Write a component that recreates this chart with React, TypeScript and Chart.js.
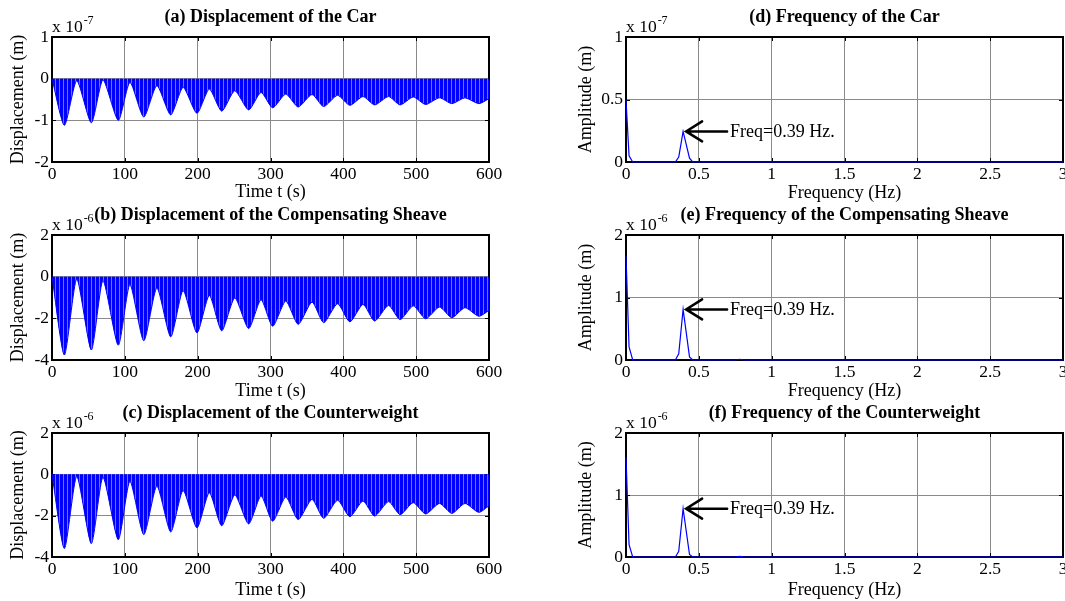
import React, { useEffect, useRef } from 'react';
import { Chart, registerables } from 'chart.js';

Chart.register(...registerables);

// ---------- data ----------
// time instants (s): start, then alternating beat troughs / beat crests, then end
const timeS = [0, 17, 34, 54, 70, 91, 107, 126, 144, 163, 180, 199, 216, 233, 251, 270, 287, 303, 321, 338, 357, 373, 392, 409, 427, 443, 462, 478, 496, 513, 532, 549, 567, 586, 600];
// lower envelope of car displacement (x 1e-7 m)
const carDisp = [0, -1.12, -0.05, -1.06, -0.03, -1.0, -0.09, -0.92, -0.17, -0.87, -0.21, -0.83, -0.25, -0.78, -0.29, -0.75, -0.33, -0.7, -0.37, -0.68, -0.38, -0.67, -0.4, -0.64, -0.43, -0.63, -0.43, -0.63, -0.44, -0.62, -0.46, -0.6, -0.46, -0.6, -0.48];
// lower envelope of compensating sheave displacement (x 1e-6 m)
const sheaveDisp = [0, -3.76, -0.11, -3.52, -0.19, -3.29, -0.38, -3.08, -0.54, -2.89, -0.67, -2.7, -0.9, -2.6, -1.02, -2.49, -1.11, -2.38, -1.17, -2.29, -1.22, -2.21, -1.3, -2.17, -1.33, -2.13, -1.38, -2.06, -1.4, -2.02, -1.46, -1.97, -1.49, -1.9, -1.62];
// lower envelope of counterweight displacement (x 1e-6 m)
const cwDisp = [0, -3.59, -0.1, -3.35, -0.14, -3.16, -0.33, -2.92, -0.57, -2.79, -0.78, -2.59, -0.89, -2.49, -1.0, -2.4, -1.05, -2.27, -1.1, -2.19, -1.21, -2.13, -1.25, -2.05, -1.29, -2.02, -1.32, -1.95, -1.37, -1.92, -1.41, -1.89, -1.41, -1.84, -1.52];

// spectra
const freqHz = [0, 0.021, 0.046, 0.339, 0.362, 0.392, 0.436, 0.458, 0.75, 0.78, 0.81, 3.0];
const carAmp = [0.495, 0.05, 0, 0, 0.04, 0.245, 0.03, 0, 0, 0, 0, 0]; // x 1e-7
const sheaveAmp = [1.66, 0.21, 0, 0, 0.1, 0.81, 0.05, 0, 0, 0.012, 0, 0]; // x 1e-6
const cwAmp = [1.61, 0.2, 0, 0, 0.09, 0.78, 0.04, 0, 0, 0.012, 0, 0]; // x 1e-6
const peakIndex = 5;
const peakLabel = 'Freq=0.39 Hz.';

// ticks
const timeTicks = [0, 100, 200, 300, 400, 500, 600];
const freqTicks = [0, 0.5, 1, 1.5, 2, 2.5, 3];
const carDispTicks = [-2, -1, 0, 1];
const dispTicks6 = [-4, -2, 0, 2];
const carAmpTicks = [0, 0.5, 1];
const ampTicks6 = [0, 1, 2];

const FONT = "'Liberation Serif', 'Times New Roman', Times, serif";
const BLUE = 'rgb(0,0,255)';

type PanelDef = {
  title: string;
  exp: string;
  xs: number[];
  ys: number[];
  disp: boolean;
  xTicks: number[];
  yTicks: number[];
  xTitle: string;
  yTitle: string;
  canvasLeft: number;
  plotTop: number;
  plotH: number;
  padRight: number;
  xTitleGap: number;
  yTitlePad: number;
};

const L = { canvasLeft: 0, padRight: 20, yTitlePad: 7.7 };
const R = { canvasLeft: 574, padRight: 2, yTitlePad: 1 };

const panels: PanelDef[] = [
  { ...L, title: '(a) Displacement of the Car', exp: '-7', xs: timeS, ys: carDisp, disp: true, xTicks: timeTicks, yTicks: carDispTicks, xTitle: 'Time t (s)', yTitle: 'Displacement (m)', plotTop: 37, plotH: 125, xTitleGap: 30 },
  { ...L, title: '(b) Displacement of the Compensating Sheave', exp: '-6', xs: timeS, ys: sheaveDisp, disp: true, xTicks: timeTicks, yTicks: dispTicks6, xTitle: 'Time t (s)', yTitle: 'Displacement (m)', plotTop: 235, plotH: 125, xTitleGap: 31.5 },
  { ...L, title: '(c) Displacement of the Counterweight', exp: '-6', xs: timeS, ys: cwDisp, disp: true, xTicks: timeTicks, yTicks: dispTicks6, xTitle: 'Time t (s)', yTitle: 'Displacement (m)', plotTop: 433, plotH: 124, xTitleGap: 33 },
  { ...R, title: '(d) Frequency of the Car', exp: '-7', xs: freqHz, ys: carAmp, disp: false, xTicks: freqTicks, yTicks: carAmpTicks, xTitle: 'Frequency (Hz)', yTitle: 'Amplitude (m)', plotTop: 37, plotH: 125, xTitleGap: 31 },
  { ...R, title: '(e) Frequency of the Compensating Sheave', exp: '-6', xs: freqHz, ys: sheaveAmp, disp: false, xTicks: freqTicks, yTicks: ampTicks6, xTitle: 'Frequency (Hz)', yTitle: 'Amplitude (m)', plotTop: 235, plotH: 125, xTitleGap: 31.5 },
  { ...R, title: '(f) Frequency of the Counterweight', exp: '-6', xs: freqHz, ys: cwAmp, disp: false, xTicks: freqTicks, yTicks: ampTicks6, xTitle: 'Frequency (Hz)', yTitle: 'Amplitude (m)', plotTop: 433, plotH: 124, xTitleGap: 33 },
];

const PLOT_W = 437;
const Y_BOX = 52;
const TOP_PAD = 37;
const X_BOX = 48;

function makePattern(): CanvasPattern | string {
  const pc = document.createElement('canvas');
  pc.width = 4;
  pc.height = 1;
  const c = pc.getContext('2d');
  if (!c) return BLUE;
  c.fillStyle = BLUE;
  c.fillRect(0, 0, 3, 1);
  c.fillStyle = '#6e6eff';
  c.fillRect(3, 0, 1, 1);
  return c.createPattern(pc, 'repeat') || BLUE;
}

function Panel({ def }: { def: PanelDef }) {
  const ref = useRef<HTMLCanvasElement>(null);
  const W = Y_BOX + PLOT_W + def.padRight;
  const H = TOP_PAD + def.plotH + X_BOX;

  useEffect(() => {
    const canvas = ref.current;
    if (!canvas) return;
    const xMin = def.xTicks[0];
    const xMax = def.xTicks[def.xTicks.length - 1];
    const yMin = def.yTicks[0];
    const yMax = def.yTicks[def.yTicks.length - 1];

    const decor = {
      id: 'decor',
      beforeDatasetsDraw(chart: any) {
        const { ctx, chartArea, scales } = chart;
        const { left, top, right, bottom } = chartArea;
        const x = scales.x;
        const y = scales.y;
        ctx.save();
        ctx.strokeStyle = '#000';
        ctx.lineWidth = 1;
        ctx.beginPath();
        for (const t of x.ticks) {
          const px = Math.round(x.getPixelForValue(t.value)) + 0.5;
          ctx.moveTo(px, bottom);
          ctx.lineTo(px, bottom - 4);
          ctx.moveTo(px, top);
          ctx.lineTo(px, top + 4);
        }
        for (const t of y.ticks) {
          const py = Math.round(y.getPixelForValue(t.value)) + 0.5;
          ctx.moveTo(left, py);
          ctx.lineTo(left + 4, py);
          ctx.moveTo(right, py);
          ctx.lineTo(right - 4, py);
        }
        ctx.stroke();
        ctx.lineWidth = 2;
        ctx.strokeRect(left, top, right - left, bottom - top);
        ctx.restore();
      },
      afterDraw(chart: any) {
        const { ctx, chartArea, scales } = chart;
        const { left, top, right } = chartArea;
        ctx.save();
        ctx.fillStyle = '#000';
        // exponent label
        ctx.font = `17.5px ${FONT}`;
        ctx.textAlign = 'left';
        ctx.textBaseline = 'alphabetic';
        ctx.fillText('x 10', left, top - 5);
        const w = ctx.measureText('x 10').width;
        ctx.font = `12px ${FONT}`;
        ctx.fillText(def.exp, left + w + 1, top - 13);
        // title
        ctx.font = `bold 18px ${FONT}`;
        ctx.textAlign = 'center';
        ctx.textBaseline = 'middle';
        ctx.fillText(def.title, (left + right) / 2, top - 19.5);
        // peak annotation
        if (!def.disp) {
          const tx = scales.x.getPixelForValue(def.xs[peakIndex]) + 2;
          const ty = scales.y.getPixelForValue(def.ys[peakIndex]);
          ctx.strokeStyle = '#000';
          ctx.lineWidth = 2.5;
          ctx.lineCap = 'round';
          ctx.beginPath();
          ctx.moveTo(tx + 1, ty);
          ctx.lineTo(tx + 42, ty);
          ctx.moveTo(tx + 17, ty - 10);
          ctx.lineTo(tx + 1, ty);
          ctx.lineTo(tx + 17, ty + 10);
          ctx.stroke();
          ctx.font = `18px ${FONT}`;
          ctx.textAlign = 'left';
          ctx.textBaseline = 'middle';
          ctx.fillText(peakLabel, tx + 45, ty + 1);
        }
        ctx.restore();
      },
    };

    const tickFont = { family: FONT, size: 17.5 };
    const titleFont = { family: FONT, size: 18 };

    const chart = new Chart(canvas, {
      type: 'line',
      data: {
        datasets: [
          {
            data: def.xs.map((xv, i) => ({ x: xv, y: def.ys[i] })),
            borderColor: BLUE,
            borderWidth: def.disp ? 1 : 1.2,
            pointRadius: 0,
            fill: def.disp ? 'origin' : false,
            backgroundColor: def.disp ? makePattern() : BLUE,
            tension: def.disp ? 0.22 : 0,
            clip: 4,
          } as any,
        ],
      },
      options: {
        responsive: false,
        animation: false,
        devicePixelRatio: 1,
        layout: { padding: { left: 0, top: TOP_PAD, right: def.padRight, bottom: 0 } },
        plugins: {
          legend: { display: false },
          tooltip: { enabled: false },
          title: { display: false },
        },
        scales: {
          x: {
            type: 'linear',
            min: xMin,
            max: xMax,
            afterBuildTicks: (s: any) => {
              s.ticks = def.xTicks.map((value) => ({ value }));
            },
            afterFit: (s: any) => {
              s.height = X_BOX;
              s.paddingLeft = 0;
              s.paddingRight = 0;
            },
            ticks: {
              autoSkip: false,
              maxRotation: 0,
              padding: 2,
              color: '#000',
              font: tickFont,
              callback: (v: any) => String(v),
            },
            grid: { color: '#8a8a8a', lineWidth: 1, drawTicks: false },
            border: { display: false },
            title: {
              display: true,
              text: def.xTitle,
              color: '#000',
              font: titleFont,
              padding: { top: 0, bottom: X_BOX - def.xTitleGap - 10.8 },
            },
          },
          y: {
            type: 'linear',
            min: yMin,
            max: yMax,
            afterBuildTicks: (s: any) => {
              s.ticks = def.yTicks.map((value) => ({ value }));
            },
            afterFit: (s: any) => {
              s.width = Y_BOX;
              s.paddingTop = 0;
              s.paddingBottom = 0;
            },
            ticks: {
              autoSkip: false,
              padding: 3,
              color: '#000',
              font: tickFont,
              callback: (v: any) => String(v),
            },
            grid: { color: '#8a8a8a', lineWidth: 1, drawTicks: false },
            border: { display: false },
            title: {
              display: true,
              text: def.yTitle,
              color: '#000',
              font: titleFont,
              padding: { top: def.yTitlePad, bottom: 0 },
            },
          },
        },
      } as any,
      plugins: [decor],
    });
    return () => chart.destroy();
  }, []);

  return (
    <canvas
      ref={ref}
      width={W}
      height={H}
      style={{ position: 'absolute', left: def.canvasLeft, top: def.plotTop - TOP_PAD, width: W, height: H }}
    />
  );
}

export default function App() {
  return (
    <div style={{ position: 'absolute', left: 0, top: 0, width: 1065, height: 601, background: '#fff', overflow: 'hidden' }}>
      {panels.map((p, i) => (
        <Panel key={i} def={p} />
      ))}
    </div>
  );
}
